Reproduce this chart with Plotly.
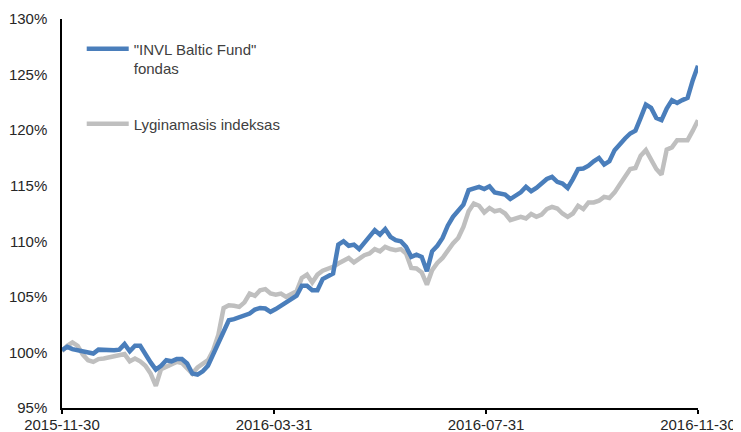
import pandas as pd
import plotly.graph_objects as go

# Dates: every 3 days from 2015-11-30 to 2016-11-30
dates = pd.date_range("2015-11-30", periods=123, freq="3D")

fund_name = "\"INVL Baltic Fund\"<br>fondas"
index_name = "Lyginamasis indeksas"

fund_values = [
    100.2, 100.5, 100.3, 100.2, 100.1, 100.05, 99.9, 100.25, 100.2, 100.2,
    100.2, 100.25, 100.75, 100.1, 100.6, 100.6, 99.8, 99.1, 98.45, 98.8,
    99.3, 99.2, 99.4, 99.4, 99.0, 98.1, 98.0, 98.3, 98.8, 99.8,
    101.0, 101.9, 102.9, 103.0, 103.2, 103.4, 103.5, 103.85, 104.0, 103.95,
    103.65, 103.9, 104.2, 104.5, 104.8, 105.1, 106.0, 106.0, 105.6, 105.6,
    106.6, 106.9, 107.1, 109.7, 110.0, 109.6, 109.7, 109.3, 109.9, 110.4,
    111.0, 110.6, 111.1, 110.4, 110.1, 110.0, 109.5, 108.6, 108.8, 108.6,
    107.3, 109.1, 109.6, 110.3, 111.4, 112.2, 112.7, 113.3, 114.6, 114.8,
    114.9, 114.7, 114.95, 114.4, 114.3, 114.2, 113.8, 114.1, 114.4, 114.9,
    114.5, 114.8, 115.2, 115.6, 115.8, 115.35, 115.2, 114.8, 115.6, 116.5,
    116.55, 116.8, 117.2, 117.5, 116.9, 117.2, 118.2, 118.8, 119.25, 119.7,
    119.95, 121.1, 122.3, 122.0, 121.1, 120.9, 121.95, 122.7, 122.45, 122.7,
    122.9, 124.5, 125.8,
]

index_values = [
    100.1, 100.6, 100.9, 100.6, 99.8, 99.3, 99.15, 99.4, 99.45, 99.55,
    99.75, 99.8, 99.85, 99.2, 99.45, 99.2, 98.8, 98.1, 97.0, 98.5,
    98.75, 98.9, 99.15, 99.05, 98.5, 98.1, 98.65, 98.95, 99.3, 100.2,
    101.6, 104.0, 104.25, 104.2, 104.1, 104.5, 105.3, 105.1, 105.6, 105.7,
    105.3, 105.2, 105.3, 105.0, 105.2, 105.5, 106.7, 107.0, 106.3, 107.0,
    107.35, 107.5, 107.7, 108.0, 108.25, 108.5, 108.1, 108.45, 108.75, 108.9,
    109.3, 109.1, 109.5, 109.3, 109.2, 109.3, 108.9, 107.6, 107.55, 107.2,
    106.1, 107.4, 108.05, 108.5, 109.2, 109.8, 110.3, 111.3, 112.7, 113.4,
    113.2, 112.6, 113.0, 112.7, 112.8, 112.5, 111.9, 112.05, 112.2, 112.05,
    112.45, 112.2, 112.4, 112.9, 113.1, 112.95, 112.5, 112.2, 112.5, 113.2,
    112.9, 113.5, 113.5, 113.65, 114.0, 113.9, 114.4, 115.1, 115.8, 116.5,
    116.6, 117.7, 118.2, 117.4, 116.5, 116.0, 118.25, 118.45, 119.1, 119.1,
    119.1, 119.95, 120.9,
]

x_tick_vals = ["2015-11-30", "2016-03-31", "2016-07-31", "2016-11-30"]
y_tick_vals = [95, 100, 105, 110, 115, 120, 125, 130]
y_tick_text = [f"{v}%" for v in y_tick_vals]

fund_color = "#4A7EBB"
index_color = "#BFBFBF"
text_color = "#262626"
legend_text_color = "#404040"
font_family = "Liberation Sans, Arial, sans-serif"

fig = go.Figure()
fig.add_trace(go.Scatter(
    x=dates, y=index_values, name=index_name, mode="lines",
    line=dict(color=index_color, width=4.5), legendgroup="b", legendrank=2,
))
fig.add_trace(go.Scatter(
    x=dates, y=fund_values, name=fund_name, mode="lines",
    line=dict(color=fund_color, width=4.5), legendgroup="a", legendrank=1,
))

# The page body adds an 8px margin, so the figure is sized to fill the rest of the window.
fig.update_layout(
    width=733, height=424,
    margin=dict(l=54, r=43, t=11, b=24),
    paper_bgcolor="white", plot_bgcolor="white",
    font=dict(family=font_family, size=15, color=text_color),
    showlegend=True,
    legend=dict(
        x=0.031, y=0.965, xanchor="left", yanchor="top",
        bgcolor="rgba(0,0,0,0)", valign="top",
        font=dict(size=15, color=legend_text_color),
        tracegroupgap=33, itemwidth=42, traceorder="grouped",
    ),
    xaxis=dict(
        type="date", range=["2015-11-30", "2016-11-30"],
        tickmode="array", tickvals=x_tick_vals, ticktext=x_tick_vals,
        showline=True, linecolor="black", linewidth=1.5,
        ticks="outside", ticklen=4, tickcolor="black", tickwidth=1.5,
        ticklabelstandoff=-2,
        showgrid=False, zeroline=False, automargin=False,
        tickfont=dict(size=15, color=text_color),
    ),
    yaxis=dict(
        range=[95, 130], tickmode="array", tickvals=y_tick_vals, ticktext=y_tick_text,
        showline=True, linecolor="black", linewidth=1.5,
        ticks="", showgrid=False, zeroline=False, automargin=False,
        ticklabelstandoff=10,
        tickfont=dict(size=15, color=text_color),
    ),
)

fig.write_html("out.html")
